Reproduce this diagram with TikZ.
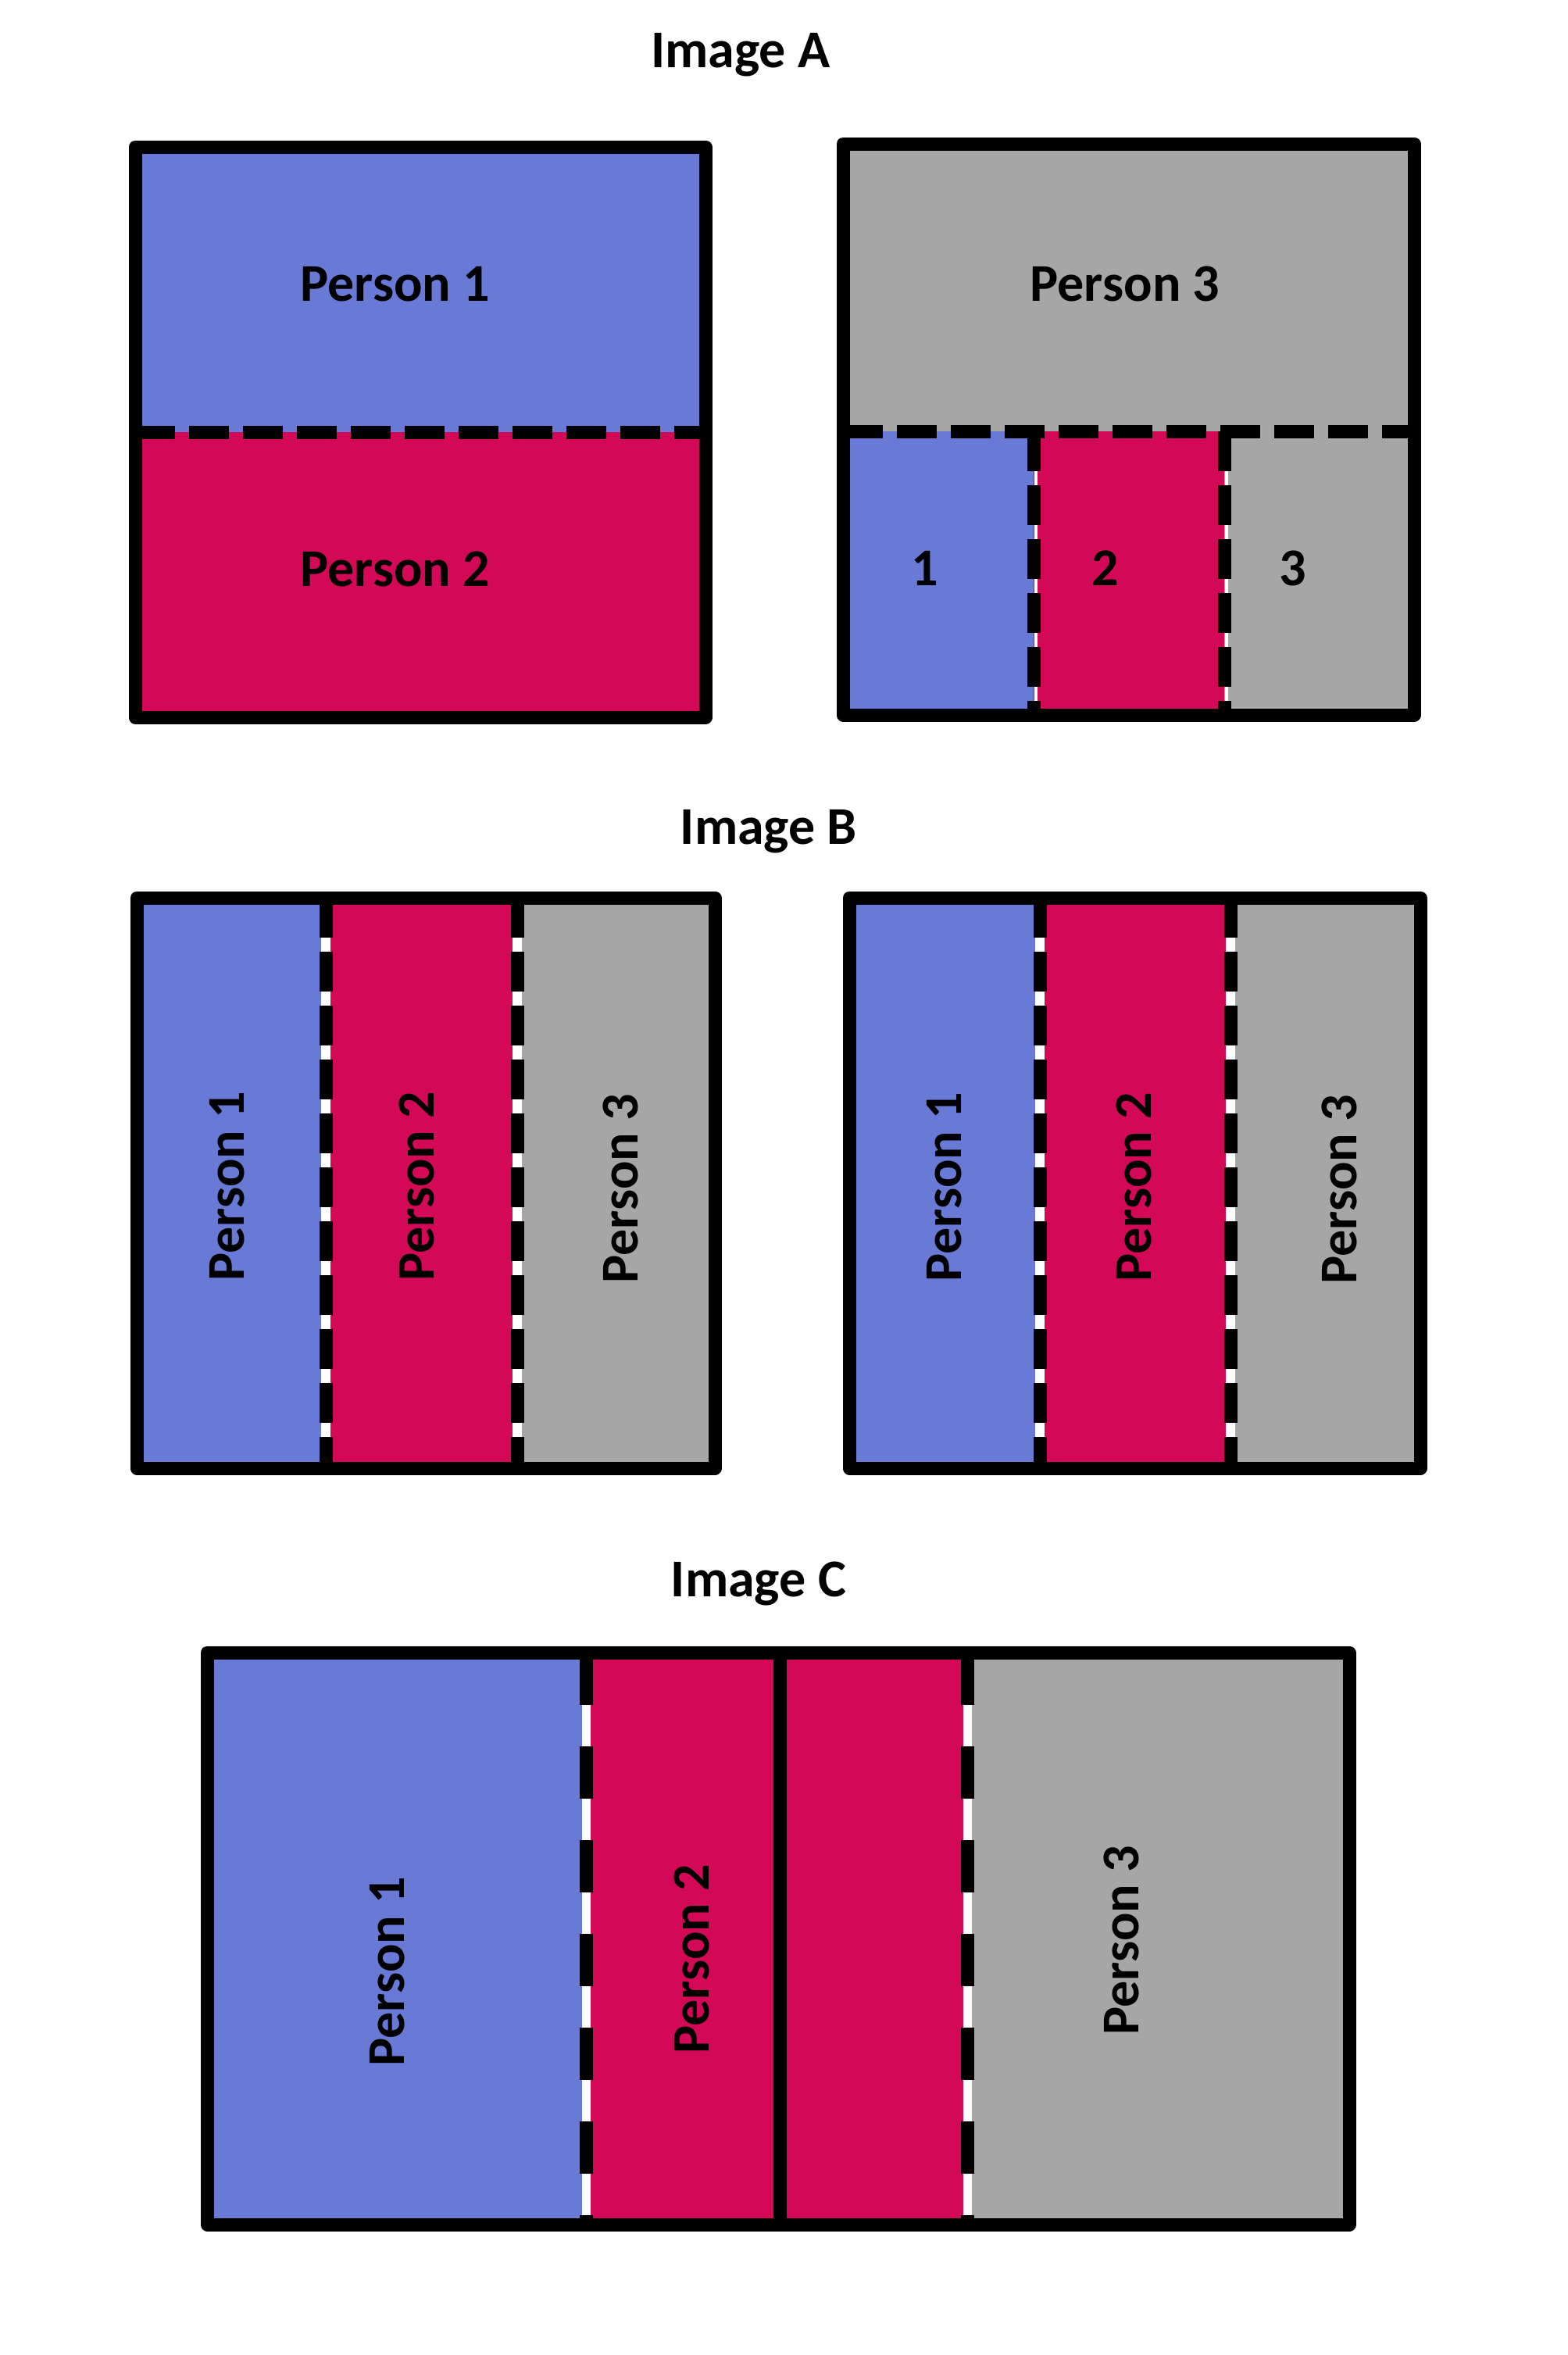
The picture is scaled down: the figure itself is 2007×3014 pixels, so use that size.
\documentclass[tikz,border=0pt]{standalone}
\usepackage{fontspec}
\setmainfont{Carlito}
\usetikzlibrary{positioning}
\definecolor{pblue}{RGB}{105,121,214}
\definecolor{ppink}{RGB}{211,8,87}
\definecolor{pgrey}{RGB}{166,166,166}

\begin{document}
\begin{tikzpicture}[x=0.5pt,y=-0.5pt,
    lbl/.style={font=\bfseries\fontsize{34}{40}\selectfont,inner sep=0pt,text height=21.5pt,text depth=0pt},
    vlbl/.style={lbl,rotate=90},
    frame/.style={line width=8.5pt,line join=round},
    cut/.style={line width=8.5pt,dash pattern=on 25.5pt off 9pt},
    longcut/.style={line width=8.5pt,dash pattern=on 33.5pt off 26.5pt},
    gapfill/.style={white,line width=6pt}]
   \useasboundingbox (0,0) rectangle (2007,3014);

   % Image A
   \node[lbl] (title_a) at (948,65) {Image A};
   \fill[pblue] (173,188) rectangle (903,553);
   \fill[ppink] (173,553) rectangle (903,918);
   \draw[cut] (173,553) -- (903,553);
   \draw[frame] (173,188) rectangle (903,918);
   \node[lbl] (a_p1) at (506,364) {Person 1};
   \node[lbl] (a_p2) at (506,729) {Person 2};

   \fill[pgrey] (1079,184) rectangle (1810,552);
   \fill[pblue] (1079,552) rectangle (1323,915);
   \fill[ppink] (1323,552) rectangle (1567,915);
   \fill[pgrey] (1567,552) rectangle (1810,915);
   \draw[white,line width=2pt] (1326,552) -- (1326,915) (1570,552) -- (1570,915);
   \draw[cut] (1079,552) -- (1810,552);
   \draw[cut] (1323,552) -- (1323,915);
   \draw[cut] (1567,552) -- (1567,915);
   \draw[frame] (1079,184) rectangle (1810,915);
   \node[lbl] (a_p3) at (1440,364) {Person 3};
   \node[lbl] (a_s1) at (1184,728) {1};
   \node[lbl] (a_s2) at (1415,728) {2};
   \node[lbl] (a_s3) at (1655,728) {3};

   % Image B
   \node[lbl] (title_b) at (984,1059) {Image B};
   \foreach \x/\da/\db/\xr in {175/417/662/915, 1087/1331/1575/1818} {
      \fill[pblue] (\x,1149) rectangle (\da,1879);
      \fill[ppink] (\da,1149) rectangle (\db,1879);
      \fill[pgrey] (\db,1149) rectangle (\xr,1879);
      \draw[gapfill] (\da,1149) -- (\da,1879) (\db,1149) -- (\db,1879);
      \draw[cut] (\da,1149) -- (\da,1879);
      \draw[cut] (\db,1149) -- (\db,1879);
      \draw[frame] (\x,1149) rectangle (\xr,1879);
   }
   \node[vlbl] (b_p1) at (291,1518) {Person 1};
   \node[vlbl] (b_p2) at (534,1518) {Person 2};
   \node[vlbl] (b_p3) at (795,1521) {Person 3};
   \node[vlbl] (b_q1) at (1209,1519) {Person 1};
   \node[vlbl] (b_q2) at (1452,1519) {Person 2};
   \node[vlbl] (b_q3) at (1715,1522) {Person 3};

   % Image C
   \node[lbl] (title_c) at (971,2022) {Image C};
   \fill[pblue] (265,2115) rectangle (750,2847);
   \fill[ppink] (750,2115) rectangle (1238,2847);
   \fill[pgrey] (1238,2115) rectangle (1727,2847);
   \draw[white,line width=5.5pt] (750,2115) -- (750,2847) (1238,2115) -- (1238,2847);
   \draw[longcut] (750,2115) -- (750,2847);
   \draw[longcut] (1238,2115) -- (1238,2847);
   \draw[frame] (998,2115) -- (998,2847);
   \draw[frame] (265,2115) rectangle (1727,2847);
   \node[vlbl] (c_p1) at (496,2523) {Person 1};
   \node[vlbl] (c_p2) at (886,2507) {Person 2};
   \node[vlbl] (c_p3) at (1436,2483) {Person 3};
\end{tikzpicture}
\end{document}
